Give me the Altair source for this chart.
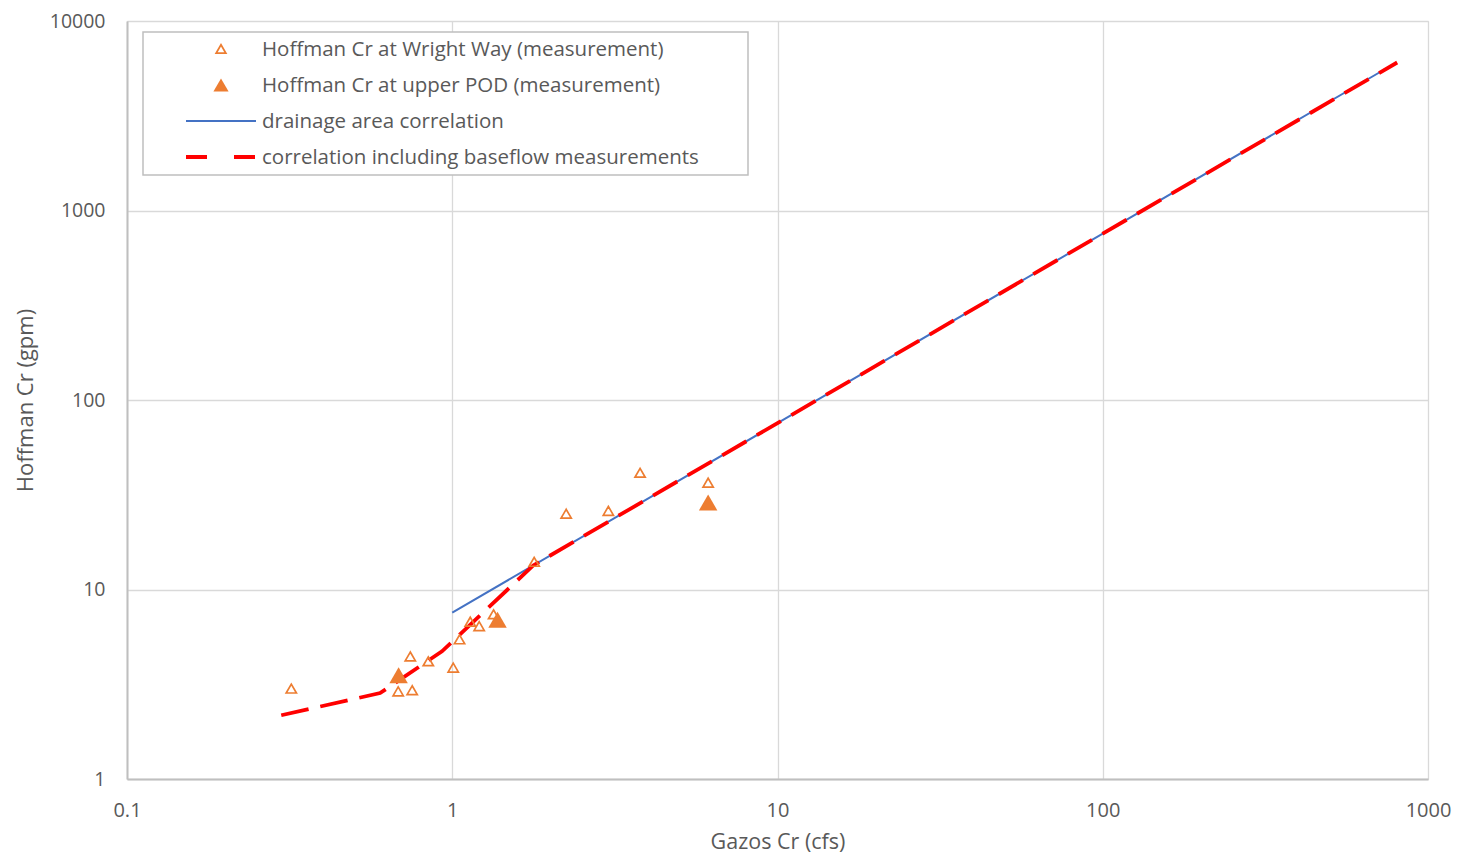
import altair as alt
import pandas as pd

# Hoffman Cr at Wright Way (measurement) - open triangles
ww_x = [0.32, 0.682, 0.753, 0.743, 0.844, 1.007, 1.053, 1.136, 1.21, 1.34, 1.786, 2.24, 3.02, 3.78, 6.12]
ww_y = [3.0, 2.9, 2.94, 4.43, 4.18, 3.87, 5.46, 6.76, 6.41, 7.4, 14.0, 25.1, 26.0, 41.3, 36.6]

# Hoffman Cr at upper POD (measurement) - filled triangles
pod_x = [0.684, 1.378, 6.12]
pod_y = [3.53, 6.93, 28.8]

# drainage area correlation
da_x = [1.0, 10.0, 100.0, 800.0]
da_y = [7.55, 75.5, 755.0, 6040.0]

# correlation including baseflow measurements
bf_x = [0.298, 0.60, 0.93, 1.774, 10.0, 100.0, 804.0]
bf_y = [2.17, 2.84, 4.72, 13.4, 75.5, 755.0, 6040.0]

legend_labels = [
    "Hoffman Cr at Wright Way (measurement)",
    "Hoffman Cr at upper POD (measurement)",
    "drainage area correlation",
    "correlation including baseflow measurements",
]

FONT = "Open Sans"
ORANGE = "#ED7D31"
BLUE = "#4472C4"
RED = "#FF0000"
TXT = "#595959"

W, H = 1301, 758

xscale = alt.Scale(type="log", domain=[0.1, 1000], nice=False)
yscale = alt.Scale(type="log", domain=[1, 10000], nice=False)

xaxis = alt.Axis(
    title="Gazos Cr (cfs)", values=[0.1, 1, 10, 100, 1000], format="~g",
    grid=True, gridColor="#d9d9d9", gridWidth=1.3, ticks=False,
    domainColor="#bfbfbf", domainWidth=2,
    labelFont=FONT, labelFontSize=20, labelColor=TXT, labelPadding=21,
    labelFlush=False, labelOverlap=False,
    titleFont=FONT, titleFontSize=21.5, titleColor=TXT, titleFontWeight="normal", titlePadding=11,
)
yaxis = alt.Axis(
    title="Hoffman Cr (gpm)", values=[1, 10, 100, 1000, 10000], format="~g",
    grid=True, gridColor="#d9d9d9", gridWidth=1.3, ticks=False,
    domainColor="#bfbfbf", domainWidth=2,
    labelFont=FONT, labelFontSize=19.5, labelColor=TXT, labelPadding=22,
    labelFlush=False, labelOverlap=False,
    titleFont=FONT, titleFontSize=22, titleColor=TXT, titleFontWeight="normal", titlePadding=12,
)

da_df = pd.DataFrame({"x": da_x, "y": da_y})
bf_df = pd.DataFrame({"x": bf_x, "y": bf_y})
ww_df = pd.DataFrame({"x": ww_x, "y": ww_y})
pod_df = pd.DataFrame({"x": pod_x, "y": pod_y})

blue = alt.Chart(da_df).mark_line(color=BLUE, strokeWidth=2).encode(
    x=alt.X("x:Q", scale=xscale, axis=xaxis),
    y=alt.Y("y:Q", scale=yscale, axis=yaxis),
)
red = alt.Chart(bf_df).mark_line(color=RED, strokeWidth=3.8, strokeDash=[28, 12]).encode(
    x=alt.X("x:Q", scale=xscale),
    y=alt.Y("y:Q", scale=yscale),
)
ww = alt.Chart(ww_df).mark_point(
    shape="triangle-up", filled=False, color=ORANGE, size=105, strokeWidth=1.7, opacity=1
).encode(
    x=alt.X("x:Q", scale=xscale),
    y=alt.Y("y:Q", scale=yscale),
)
pod = alt.Chart(pod_df).mark_point(
    shape="triangle-up", filled=True, color=ORANGE, size=340, opacity=1
).encode(
    x=alt.X("x:Q", scale=xscale),
    y=alt.Y("y:Q", scale=yscale),
)

# ---- legend (drawn manually, in pixel space of plot area) ----
box = alt.Chart(pd.DataFrame({"a": [0]})).mark_rect(
    fill="white", stroke="#bfbfbf", strokeWidth=1.5
).encode(x=alt.value(16), x2=alt.value(621), y=alt.value(11), y2=alt.value(154))

leg_texts = []
for i, lab in enumerate(legend_labels):
    leg_texts.append(
        alt.Chart(pd.DataFrame({"t": [lab]})).mark_text(
            align="left", baseline="middle", font=FONT, fontSize=20.5, color=TXT
        ).encode(x=alt.value(135), y=alt.value(29 + 36 * i), text="t:N")
    )
leg_ww = alt.Chart(pd.DataFrame({"a": [0]})).mark_point(
    shape="triangle-up", filled=False, color=ORANGE, size=95, strokeWidth=1.7, opacity=1
).encode(x=alt.value(94), y=alt.value(28))
leg_pod = alt.Chart(pd.DataFrame({"a": [0]})).mark_point(
    shape="triangle-up", filled=True, color=ORANGE, size=230, opacity=1
).encode(x=alt.value(94), y=alt.value(64))
leg_blue = alt.Chart(pd.DataFrame({"a": [0]})).mark_rule(color=BLUE, strokeWidth=2).encode(
    x=alt.value(59), x2=alt.value(129), y=alt.value(100)
)
leg_red = alt.Chart(pd.DataFrame({"a": [0]})).mark_rule(
    color=RED, strokeWidth=3.8, strokeDash=[21, 27]
).encode(x=alt.value(59), x2=alt.value(129), y=alt.value(136))

chart = alt.layer(
    blue, red, ww, pod, box, *leg_texts, leg_ww, leg_pod, leg_blue, leg_red
).properties(
    width=W, height=H,
    autosize=alt.AutoSizeParams(type="none"),
    padding={"left": 119, "top": 13, "right": 36, "bottom": 82},
).configure_view(stroke=None).configure(background="white")

chart.save("out.html", embed_options={"renderer": "svg", "actions": False})
